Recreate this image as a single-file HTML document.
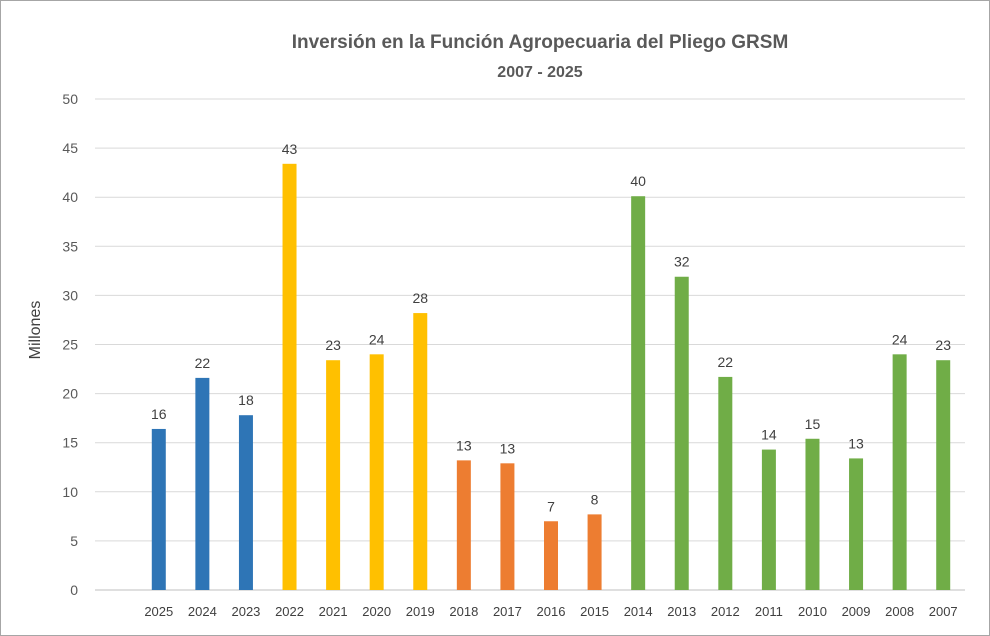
<!DOCTYPE html>
<html><head><meta charset="utf-8"><style>
html,body{margin:0;padding:0;background:#fff;}
svg{display:block;font-family:"Liberation Sans",Arial,sans-serif;}
</style></head><body>
<svg id="chart" width="990" height="636">
<rect x="0.5" y="0.5" width="989" height="635" fill="#fff" stroke="#a6a6a6"/>
<text x="540" y="48" text-anchor="middle" font-size="19" font-weight="bold" fill="#595959">Inversión en la Función  Agropecuaria  del Pliego GRSM</text>
<text x="540" y="77" text-anchor="middle" font-size="16" font-weight="bold" fill="#595959">2007 - 2025</text>
<text transform="translate(40,330) rotate(-90)" text-anchor="middle" font-size="16" fill="#404040">Millones</text>
<g id="grid"></g><g id="bars"></g>
</svg>
<script>
const categories=["2025","2024","2023","2022","2021","2020","2019","2018","2017","2016","2015","2014","2013","2012","2011","2010","2009","2008","2007"];
const values=[16.4,21.6,17.8,43.4,23.4,24.0,28.2,13.2,12.9,7.0,7.7,40.1,31.9,21.7,14.3,15.4,13.4,24.0,23.4];
const groups=["blue","blue","blue","yellow","yellow","yellow","yellow","orange","orange","orange","orange","green","green","green","green","green","green","green","green"];
const yTicks=[0,5,10,15,20,25,30,35,40,45,50];
const colors={blue:"#2e75b6",yellow:"#ffc000",orange:"#ed7d31",green:"#70ad47"};
const NS="http://www.w3.org/2000/svg";
const y0=590,y1=99,xl=95,xr=965,px0=137;
const band=(xr-px0)/categories.length;
const ys=v=>y0-(v/50)*(y0-y1);
const xs=i=>px0+band*(i+0.5);
function mk(t,a,p){const e=document.createElementNS(NS,t);for(const k in a)e.setAttribute(k,a[k]);p.appendChild(e);return e;}
const g=document.getElementById('grid'),b=document.getElementById('bars');
yTicks.forEach(t=>{
 const l=mk('line',{x1:xl,x2:xr,y1:ys(t),y2:ys(t),stroke:t===0?'#bfbfbf':'#d9d9d9','stroke-width':1},g);
 
 
 const tx=mk('text',{x:78,y:ys(t)+5,'text-anchor':'end','font-size':14,fill:'#595959'},g);
 tx.textContent=t;
 
 
});
categories.forEach((c,i)=>{
 const v=values[i],x=xs(i),w=14;
 const r=mk('rect',{x:x-w/2,y:ys(v),width:w,height:y0-ys(v),fill:colors[groups[i]]},b);
 
 
 const lb=mk('text',{x:x,y:ys(v)-10,'text-anchor':'middle','font-size':14,fill:'#404040'},b);
 lb.textContent=Math.round(v);
 
 
 const xt=mk('text',{x:x,y:616,'text-anchor':'middle','font-size':13,fill:'#404040'},b);
 xt.textContent=c;
 
 
});
</script>
</body></html>
